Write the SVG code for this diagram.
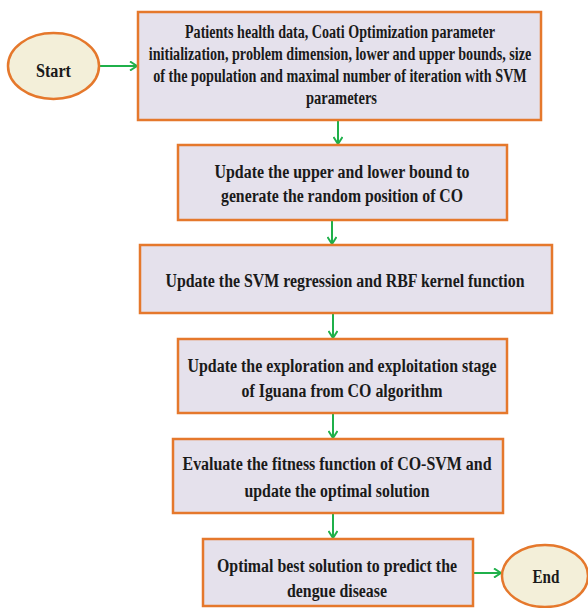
<svg xmlns="http://www.w3.org/2000/svg" width="588" height="608" viewBox="0 0 588 608">
<defs>
<marker id="ah" viewBox="0 0 10 10" refX="9" refY="5" markerWidth="10" markerHeight="10" markerUnits="userSpaceOnUse" orient="auto">
<polyline points="2,0.5 9,5 2,9.5" fill="none" stroke="#1fb04a" stroke-width="2"/>
</marker>
<style>
.box{fill:#e5e1ec;stroke:#e5782c;stroke-width:2.5}
.ell{fill:#f3efd9;stroke:#e5782c;stroke-width:2.5}
.t{font-family:"Liberation Serif","Times New Roman",serif;font-weight:bold;font-size:18px;fill:#1a1a1a;text-anchor:middle}
.c{fill:none;stroke:#1fb04a;stroke-width:2;marker-end:url(#ah)}
</style>
</defs>
<rect width="588" height="608" fill="#ffffff"/>
<g id="connectors">
<line class="c" x1="99" y1="66" x2="137" y2="66"/>
<line class="c" x1="338" y1="121" x2="338" y2="144"/>
<line class="c" x1="332" y1="221" x2="332" y2="244"/>
<line class="c" x1="333" y1="314" x2="333" y2="338"/>
<line class="c" x1="333" y1="414" x2="333" y2="438"/>
<line class="c" x1="333" y1="514" x2="333" y2="538"/>
<line class="c" x1="474" y1="573" x2="501" y2="573"/>
</g>
<g id="start">
<ellipse class="ell" cx="53.5" cy="66" rx="45.5" ry="33"/>
<text class="t" x="53.5" y="77" textLength="35" lengthAdjust="spacingAndGlyphs">Start</text>
</g>
<g id="init">
<rect class="box" x="138" y="12" width="403" height="108"/>
<text class="t" x="340" y="38" textLength="310" lengthAdjust="spacingAndGlyphs">Patients health data, Coati Optimization parameter</text>
<text class="t" transform="translate(340,60) scale(0.75,1)" x="0" y="0" textLength="510" lengthAdjust="spacingAndGlyphs">initialization, problem dimension, lower and upper bounds, size</text>
<text class="t" transform="translate(340,82) scale(0.75,1)" x="0" y="0" textLength="498" lengthAdjust="spacingAndGlyphs">of the population and maximal number of iteration with SVM</text>
<text class="t" x="341.5" y="104" textLength="71" lengthAdjust="spacingAndGlyphs">parameters</text>
</g>
<g id="bounds">
<rect class="box" x="178" y="145" width="329" height="75"/>
<text class="t" x="342" y="178" textLength="255" lengthAdjust="spacingAndGlyphs">Update the upper and lower bound to</text>
<text class="t" x="342" y="202" textLength="242" lengthAdjust="spacingAndGlyphs">generate the random position of CO</text>
</g>
<g id="svm">
<rect class="box" x="140" y="245" width="412" height="68"/>
<text class="t" x="345" y="287" textLength="359" lengthAdjust="spacingAndGlyphs">Update the SVM regression and RBF kernel function</text>
</g>
<g id="explore">
<rect class="box" x="178" y="339" width="329" height="74"/>
<text class="t" x="342" y="372" textLength="309" lengthAdjust="spacingAndGlyphs">Update the exploration and exploitation stage</text>
<text class="t" x="342" y="397" textLength="201" lengthAdjust="spacingAndGlyphs">of Iguana from CO algorithm</text>
</g>
<g id="evaluate">
<rect class="box" x="173" y="439" width="330" height="74"/>
<text class="t" x="337" y="470" textLength="309" lengthAdjust="spacingAndGlyphs">Evaluate the fitness function of CO-SVM and</text>
<text class="t" x="337" y="497" textLength="185" lengthAdjust="spacingAndGlyphs">update the optimal solution</text>
</g>
<g id="optimal">
<rect class="box" x="203" y="539" width="270" height="67"/>
<text class="t" x="337" y="572" textLength="240" lengthAdjust="spacingAndGlyphs">Optimal best solution to predict the</text>
<text class="t" x="337" y="597" textLength="100" lengthAdjust="spacingAndGlyphs">dengue disease</text>
</g>
<g id="end">
<ellipse class="ell" cx="545" cy="576" rx="43" ry="31"/>
<text class="t" x="546" y="583" textLength="27" lengthAdjust="spacingAndGlyphs">End</text>
</g>
</svg>
